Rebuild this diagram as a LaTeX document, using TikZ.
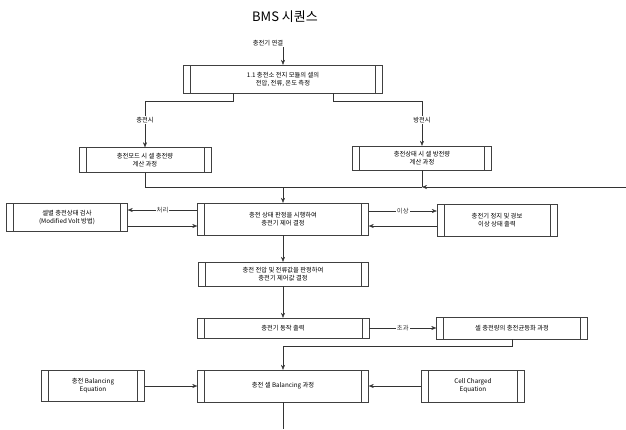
\documentclass[tikz,border=0pt]{standalone}
\usepackage{fontspec}
\newfontfamily\krfont{Noto Sans CJK KR}
\usetikzlibrary{arrows.meta}

\tikzset{
	proc/.style={draw=black!75, rectangle, inner sep=1pt, align=center,
		font=\krfont\fontsize{6.3}{8}\selectfont,
		path picture={
			\draw[black!75] ([xshift=7pt]path picture bounding box.north west) -- ([xshift=7pt]path picture bounding box.south west);
			\draw[black!75] ([xshift=-7pt]path picture bounding box.north east) -- ([xshift=-7pt]path picture bounding box.south east);
		}},
	flow/.style={-{Stealth[length=5pt,width=4pt]}, black!80},
	lbl/.style={font=\krfont\fontsize{6.3}{7}\selectfont, fill=white, inner sep=1pt}
}

\begin{document}
\begin{tikzpicture}[x=1pt,y=-1pt]
		\useasboundingbox (0,0) rectangle (626,429);

		\node[font=\krfont\fontsize{13}{15}\selectfont] (title) at (285,17) {BMS 시퀀스};
		\node[lbl] (start) at (268,43) {충전기 연결};

		\node[proc, minimum width=199pt, minimum height=28pt] (meas) at (283,79) {1.1 충전소 전지 모듈의 셀의\\전압, 전류, 온도 측정};
		\node[proc, minimum width=132pt, minimum height=25pt] (chg) at (145,160) {충전모드 시 셀 충전량\\계산 과정};
		\node[proc, minimum width=139pt, minimum height=24pt] (dis) at (422,158) {충전상태 시 셀 방전량\\계산 과정};

		\node[proc, minimum width=121pt, minimum height=28pt] (volt) at (67,217) {셀별 충전상태 검사\\(Modified Volt 방법)};
		\node[proc, minimum width=171pt, minimum height=32pt] (ctl) at (283,219) {충전 상태 판정을 시행하여\\충전기 제어 결정};
		\node[proc, minimum width=120pt, minimum height=32pt] (alarm) at (497,220) {충전기 정지 및 경보\\이상 상태 출력};

		\node[proc, minimum width=170pt, minimum height=24pt] (judge) at (283,274) {충전 전압 및 전류값을 판정하여\\충전기 제어값 결정};
		\node[proc, minimum width=172pt, minimum height=20pt] (out) at (283,328) {충전기 동작 출력};
		\node[proc, minimum width=151pt, minimum height=22pt] (bal) at (512,328) {셀 충전량의 충전균등화 과정};

		\node[proc, minimum width=103pt, minimum height=31pt] (beq) at (93,386) {충전 Balancing\\Equation};
		\node[proc, minimum width=171pt, minimum height=32pt] (cell) at (283,386) {충전 셀 Balancing 과정};
		\node[proc, minimum width=103pt, minimum height=32pt] (ceq) at (473,386) {Cell Charged\\Equation};

		\coordinate (brL) at (145,101);
		\coordinate (brR) at (422,101);
		\coordinate (mg) at (283,187);
		\coordinate (mgR) at (422,187);
		\coordinate (fb) at (626,187);
		\coordinate (fb2) at (283,346);
		\coordinate (endpt) at (283,429);

		\draw[flow] (start.south -| meas.north) -- (meas.north);
		\draw[black!80] ([xshift=-50pt]meas.south) |- (brL);
		\draw[black!80] ([xshift=50pt]meas.south) |- (brR);
		\draw[flow] (brL) -- (chg.north);
		\draw[flow] (brR) -- (dis.north);
		\node[lbl] (lchg) at (145,120) {충전시};
		\node[lbl] (ldis) at (422,120) {방전시};

		\draw[black!80] (chg.south) |- (mgR);
		\draw[black!80] (dis.south) -- (mgR);
		\draw[flow] (fb) -- (mgR);
		\draw[flow] (mg) -- (ctl.north);

		\draw[flow] (ctl.west |- 0,210) -- node[lbl] {처리} (volt.east |- 0,210);
		\draw[flow] (volt.east |- 0,226) -- (ctl.west |- 0,226);
		\draw[flow] (ctl.east |- 0,211) -- node[lbl] {이상} (alarm.west |- 0,211);
		\draw[flow] (alarm.west |- 0,226) -- (ctl.east |- 0,226);

		\draw[flow] (ctl) -- (judge);
		\draw[flow] (judge) -- (out);
		\draw[flow] (out) -- node[lbl] {초과} (bal);
		\draw[flow] (bal.south) |- (fb2) -- (cell.north);

		\draw[flow] (beq) -- (cell);
		\draw[flow] (ceq) -- (cell);
		\draw[black!80] (cell) -- (endpt);

	\end{tikzpicture}
\end{document}
